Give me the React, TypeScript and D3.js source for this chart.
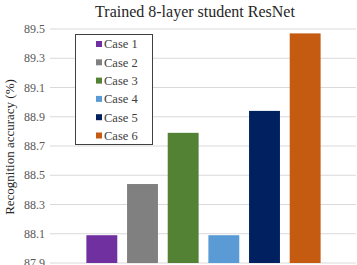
import React, { useEffect, useRef } from 'react';
import * as d3 from 'd3';

const cases = ['Case 1', 'Case 2', 'Case 3', 'Case 4', 'Case 5', 'Case 6'];
const accuracy = [88.09, 88.44, 88.79, 88.09, 88.94, 89.47];
const colors = ['#7030A0', '#808080', '#548235', '#5B9BD5', '#002060', '#C55A11'];
const yTicks = [87.9, 88.1, 88.3, 88.5, 88.7, 88.9, 89.1, 89.3, 89.5];

const App = () => {
  const ref = useRef<SVGSVGElement>(null);

  useEffect(() => {
    const svg = d3.select(ref.current);
    svg.selectAll('*').remove();

    const font = '"Liberation Serif", "Times New Roman", serif';

    const y = d3.scaleLinear().domain([87.9, 89.5]).range([263, 29]);
    // one category, six series, like a clustered column
    const x = d3.scaleBand().domain(cases).range([81.5, 325.5]).paddingInner(0.24).paddingOuter(0.12);

    svg.append('g')
      .selectAll('line')
      .data(yTicks)
      .join('line')
      .attr('x1', 50)
      .attr('x2', 356)
      .attr('y1', d => y(d))
      .attr('y2', d => y(d))
      .attr('stroke', '#d9d9d9')
      .attr('stroke-width', 1);

    svg.append('g')
      .selectAll('text')
      .data(yTicks)
      .join('text')
      .attr('x', 45)
      .attr('y', d => y(d))
      .attr('dy', '0.35em')
      .attr('text-anchor', 'end')
      .attr('font-family', font)
      .attr('font-size', 12)
      .attr('fill', '#595959')
      .text(d => d.toFixed(1));

    svg.append('g')
      .selectAll('rect')
      .data(accuracy)
      .join('rect')
      .attr('x', (d, i) => x(cases[i]))
      .attr('y', d => y(d))
      .attr('width', x.bandwidth())
      .attr('height', d => y(87.9) - y(d))
      .attr('fill', (d, i) => colors[i]);

    svg.append('text')
      .attr('x', 195)
      .attr('y', 17)
      .attr('text-anchor', 'middle')
      .attr('font-family', font)
      .attr('font-size', 16)
      .attr('fill', '#262626')
      .text('Trained 8-layer student ResNet');

    svg.append('text')
      .attr('transform', 'translate(14,147) rotate(-90)')
      .attr('text-anchor', 'middle')
      .attr('font-family', font)
      .attr('font-size', 13)
      .attr('fill', '#262626')
      .text('Recognition accuracy (%)');

    // legend
    const legend = svg.append('g');
    legend.append('rect')
      .attr('x', 75.5)
      .attr('y', 34.5)
      .attr('width', 77)
      .attr('height', 110)
      .attr('fill', '#fff')
      .attr('stroke', '#404040')
      .attr('stroke-width', 1);

    const items = legend.selectAll('g')
      .data(cases)
      .join('g')
      .attr('transform', (d, i) => `translate(0,${44 + i * 18.3})`);

    items.append('rect')
      .attr('x', 96)
      .attr('y', -3)
      .attr('width', 6)
      .attr('height', 6)
      .attr('fill', (d, i) => colors[i]);

    items.append('text')
      .attr('x', 104)
      .attr('dy', '0.35em')
      .attr('font-family', font)
      .attr('font-size', 12.5)
      .attr('fill', '#404040')
      .text(d => d);
  }, []);

  return (
    <svg
      ref={ref}
      width={357}
      height={265}
      style={{ position: 'absolute', left: 0, top: 0, background: '#fff' }}
    />
  );
};

export default App;
